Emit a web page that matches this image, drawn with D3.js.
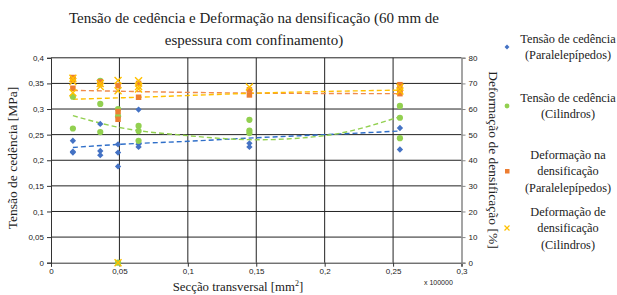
<!DOCTYPE html>
<html>
<head>
<meta charset="utf-8">
<script src="https://cdn.jsdelivr.net/npm/d3@7"></script>
<style>
  body { margin: 0; background: #fff; }
  svg text { fill: #222; }
  .serif { font-family: "Liberation Serif", "Times New Roman", serif; }
  .sans { font-family: "Liberation Sans", Arial, sans-serif; }
</style>
</head>
<body>
<script>
// ---- data ----
var xTicks = [0, 0.05, 0.1, 0.15, 0.2, 0.25, 0.3],
    yTicks = [0, 0.05, 0.1, 0.15, 0.2, 0.25, 0.3, 0.35, 0.4],
    y2Ticks = [0, 10, 20, 30, 40, 50, 60, 70, 80];

// Tensão de cedência (Paralelepípedos) [MPa]
var paralTension = [
  [0.016, 0.238], [0.016, 0.215], [0.016, 0.217],
  [0.036, 0.271], [0.036, 0.218], [0.036, 0.210],
  [0.049, 0.231], [0.049, 0.215], [0.049, 0.188],
  [0.064, 0.299], [0.064, 0.231], [0.064, 0.226],
  [0.145, 0.233], [0.145, 0.226],
  [0.255, 0.263], [0.255, 0.221]
];
// Tensão de cedência (Cilindros) [MPa]
var cylTension = [
  [0.016, 0.324], [0.016, 0.262],
  [0.036, 0.355], [0.036, 0.310], [0.036, 0.255],
  [0.049, 0.300], [0.049, 0.286], [0.049, 0],
  [0.064, 0.267], [0.064, 0.257], [0.064, 0.238],
  [0.145, 0.279], [0.145, 0.258], [0.145, 0.253],
  [0.255, 0.306], [0.255, 0.283], [0.255, 0.243]
];
// Deformação na densificação (Paralelepípedos) [%]
var paralDeform = [
  [0.016, 72.3], [0.016, 71.4], [0.016, 68.1],
  [0.036, 70.6], [0.036, 69.8],
  [0.049, 69.1], [0.049, 59], [0.049, 56],
  [0.064, 70], [0.064, 64.6],
  [0.145, 67.5], [0.145, 65.5],
  [0.255, 69.5], [0.255, 67.5], [0.255, 66]
];
// Deformação de densificação (Cilindros) [%]
var cylDeform = [
  [0.016, 70.7], [0.016, 66.4], [0.016, 72],
  [0.036, 70], [0.036, 68.8],
  [0.049, 71.1], [0.049, 67.1], [0.049, 0],
  [0.064, 71], [0.064, 68.8], [0.064, 67.8],
  [0.145, 68.6],
  [0.255, 68.5], [0.255, 67]
];

// trend lines as seen in the picture
var paralTensionTrend = [[0.016, 0.225], [0.05, 0.231], [0.1, 0.237], [0.15, 0.244], [0.2, 0.250], [0.255, 0.257]];
var cylTensionTrend = [[0.016, 0.287], [0.05, 0.264], [0.1, 0.248], [0.15, 0.240], [0.2, 0.248], [0.255, 0.285]];
var paralDeformTrend = [[0.016, 67.3], [0.1, 66.5], [0.15, 66.2], [0.255, 66]];
var cylDeformTrend = [[0.016, 63.8], [0.064, 64.6], [0.15, 66.2], [0.255, 67.4]];

var seriesNames = [
  ["Tensão de cedência", "(Paralelepípedos)"],
  ["Tensão de cedência", "(Cilindros)"],
  ["Deformação na", "densificação", "(Paralelepípedos)"],
  ["Deformação de", "densificação", "(Cilindros)"]
];

var blue = "#4472c4", green = "#92d050", orange = "#ed7d31", yellow = "#ffc000";

var width = 617, height = 295;

var svg = d3.select("body").append("svg")
    .attr("width", width)
    .attr("height", height);

var x = d3.scaleLinear().domain([0, 0.3]).range([51, 461.5]),
    y = d3.scaleLinear().domain([0, 0.4]).range([262.7, 57.8]),
    y2 = d3.scaleLinear().domain([0, 80]).range([262.7, 57.8]);

var fmt = function(d) { return String(d).replace(".", ","); };

// grid
var grid = svg.append("g").attr("stroke", "#222").attr("stroke-width", 1);
grid.selectAll(".h").data(yTicks.slice(1)).enter().append("line")
    .attr("x1", x(0)).attr("x2", x(0.3))
    .attr("y1", function(d) { return y(d); })
    .attr("y2", function(d) { return y(d); });
grid.selectAll(".v").data(xTicks.slice(1, -1)).enter().append("line")
    .attr("y1", y(0)).attr("y2", y(0.4))
    .attr("x1", function(d) { return x(d); })
    .attr("x2", function(d) { return x(d); });

// axes
var ax = svg.append("g")
    .attr("transform", "translate(0," + y(0) + ")")
    .call(d3.axisBottom(x).tickValues(xTicks).tickFormat(fmt).tickSize(4).tickPadding(2));
var ay = svg.append("g")
    .attr("transform", "translate(" + x(0) + ",0)")
    .call(d3.axisLeft(y).tickValues(yTicks).tickFormat(fmt).tickSize(4).tickPadding(3));
var ay2 = svg.append("g")
    .attr("transform", "translate(" + x(0.3) + ",0)")
    .call(d3.axisRight(y2).tickValues(y2Ticks).tickSize(4).tickPadding(3));

[ax, ay, ay2].forEach(function(a) {
  a.attr("font-family", null).attr("font-size", null);
  a.selectAll("text").attr("class", "sans")
    .style("font-size", "8px").attr("fill", "#333");
  a.select(".domain").attr("stroke", "#333");
  a.selectAll(".tick line").attr("stroke", "#333");
});
ay2.select(".domain").attr("stroke", "#888").attr("stroke-width", 1.5);
ay2.selectAll(".tick line").attr("stroke", "#888");

// trend lines
var line = function(ys) {
  return d3.line().curve(d3.curveMonotoneX)
    .x(function(d) { return x(d[0]); })
    .y(function(d) { return ys(d[1]); });
};
var trends = [
  [paralTensionTrend, y, "#2f6fc9"],
  [cylTensionTrend, y, green],
  [paralDeformTrend, y2, "#f08a4b"],
  [cylDeformTrend, y2, yellow]
];
svg.selectAll(".trend").data(trends).enter().append("path")
    .attr("fill", "none")
    .attr("stroke", function(d) { return d[2]; })
    .attr("stroke-width", 1.4)
    .attr("stroke-dasharray", "5,3")
    .attr("d", function(d) { return line(d[1])(d[0]); });

// markers
svg.append("g").selectAll("path").data(paralTension).enter().append("path")
    .attr("d", d3.symbol(d3.symbolSquare, 20))
    .attr("fill", blue)
    .attr("transform", function(d) { return "translate(" + x(d[0]) + "," + y(d[1]) + ") rotate(45)"; });

svg.append("g").selectAll("circle").data(cylTension).enter().append("circle")
    .attr("r", 3.1)
    .attr("fill", green)
    .attr("cx", function(d) { return x(d[0]); })
    .attr("cy", function(d) { return y(d[1]); });

svg.append("g").selectAll("rect").data(paralDeform).enter().append("rect")
    .attr("width", 5.5).attr("height", 5.5)
    .attr("fill", orange)
    .attr("x", function(d) { return x(d[0]) - 2.75; })
    .attr("y", function(d) { return y2(d[1]) - 2.75; });

svg.append("g").selectAll("path").data(cylDeform).enter().append("path")
    .attr("d", "M-3.5,-3.5L3.5,3.5M-3.5,3.5L3.5,-3.5")
    .attr("stroke", yellow)
    .attr("stroke-width", 1.4)
    .attr("transform", function(d) { return "translate(" + x(d[0]) + "," + y2(d[1]) + ")"; });

// titles
var title = svg.append("text")
    .attr("class", "serif")
    .attr("text-anchor", "middle")
    .style("font-size", "15px");
title.append("tspan").attr("x", 254).attr("y", 23).text("Tensão de cedência e Deformação na densificação (60 mm de");
title.append("tspan").attr("x", 254).attr("y", 45).text("espessura com confinamento)");

svg.append("text")
    .attr("class", "serif")
    .attr("transform", "translate(17,158) rotate(-90)")
    .attr("text-anchor", "middle")
    .style("font-size", "13.5px")
    .text("Tensão de cedência [MPa]");

svg.append("text")
    .attr("class", "serif")
    .attr("transform", "translate(489,160) rotate(90)")
    .attr("text-anchor", "middle")
    .style("font-size", "13.5px")
    .text("Deformação de densificação [%]");

var xt = svg.append("text")
    .attr("class", "serif")
    .attr("x", 238).attr("y", 291)
    .attr("text-anchor", "middle")
    .style("font-size", "12.8px");
xt.append("tspan").text("Secção transversal [mm");
xt.append("tspan").attr("dy", -5).style("font-size", "8px").text("2");
xt.append("tspan").attr("dy", 5).text("]");

svg.append("text")
    .attr("class", "sans")
    .attr("x", 424).attr("y", 285)
    .style("font-size", "7px")
    .attr("fill", "#333")
    .text("x 100000");

// legend
var legendY = [47, 106, 171, 228];
var leg = svg.append("g").selectAll("g").data(seriesNames).enter().append("g")
    .attr("transform", function(d, i) { return "translate(0," + legendY[i] + ")"; });

leg.each(function(d, i) {
  var g = d3.select(this);
  if (i === 0) g.append("path").attr("d", d3.symbol(d3.symbolSquare, 12)).attr("fill", blue).attr("transform", "translate(507,0) rotate(45)");
  if (i === 1) g.append("circle").attr("r", 2.4).attr("cx", 507).attr("fill", green);
  if (i === 2) g.append("rect").attr("x", 505).attr("y", -2).attr("width", 4.5).attr("height", 4.5).attr("fill", orange);
  if (i === 3) g.append("path").attr("d", "M504.5,-2.5L509.5,2.5M504.5,2.5L509.5,-2.5").attr("stroke", yellow).attr("stroke-width", 1.2);
  var n = d.length, lh = 16.5;
  g.selectAll("text").data(d).enter().append("text")
      .attr("class", "serif")
      .attr("x", 568)
      .attr("y", function(t, j) { return (j - (n - 1) / 2) * lh + 4; })
      .attr("text-anchor", "middle")
      .style("font-size", "12.3px")
      .text(function(t) { return t; });
});
</script>
</body>
</html>
